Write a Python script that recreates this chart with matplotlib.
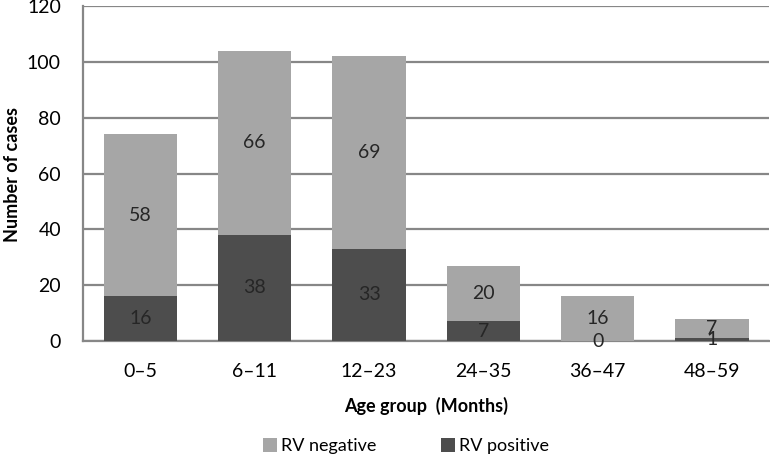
import numpy as np
import matplotlib.pyplot as plt

plt.rcParams['font.family'] = ['Lato', 'DejaVu Sans']

age_groups = ['0\u20135', '6\u201311', '12\u201323', '24\u201335', '36\u201347', '48\u201359']
rv_positive = [16, 38, 33, 7, 0, 1]
rv_negative = [58, 66, 69, 20, 16, 7]

light = '#a6a6a6'
dark = '#4d4d4d'

fig = plt.figure(figsize=(7.7, 4.59), dpi=100)
ax = fig.add_axes([0.108, 0.257, 0.891, 0.73])

x = np.arange(len(age_groups))
pos = np.array(rv_positive)
neg = np.array(rv_negative)
ax.bar(x, pos, width=0.64, color=dark, label='RV positive', zorder=3)
ax.bar(x, neg, width=0.64, bottom=pos, color=light, label='RV negative', zorder=3)

for i in range(len(x)):
    ax.text(x[i], pos[i] / 2, str(pos[i]), ha='center', va='center', fontsize=14, color='#262626', zorder=4)
    ax.text(x[i], pos[i] + neg[i] / 2, str(neg[i]), ha='center', va='center', fontsize=14, color='#262626', zorder=4)

ax.set_xlim(-0.5, len(x) - 0.5)
ax.set_ylim(0, 120)
ax.set_yticks(np.arange(0, 121, 20))
ax.set_xticks(x)
ax.set_xticklabels(age_groups)
ax.tick_params(axis='both', length=0, labelsize=14, colors='black')
ax.tick_params(axis='x', pad=16)
ax.tick_params(axis='y', pad=16)
ax.yaxis.grid(True, color='#878787', linewidth=1.6, zorder=0)
ax.set_axisbelow(True)
for s in ['top', 'right']:
    ax.spines[s].set_visible(False)
ax.spines['left'].set_color('#878787')
ax.spines['left'].set_linewidth(1.6)
ax.spines['bottom'].set_color('#878787')
ax.spines['bottom'].set_linewidth(1.6)

fig.text(0.016, 0.62, 'Number of cases', rotation=90, ha='center', va='center',
         fontsize=13, fontweight='bold')
ax.set_xlabel('Age group  (Months)', fontsize=13, fontweight='bold', labelpad=12)

handles, labels = ax.get_legend_handles_labels()
fig.legend(handles[::-1], labels[::-1], loc='center', bbox_to_anchor=(0.527, 0.028), ncol=2,
           frameon=False, fontsize=13, handlelength=0.8, handleheight=0.8,
           columnspacing=3.6, handletextpad=0.2)

fig.savefig('out.png', dpi=100)
